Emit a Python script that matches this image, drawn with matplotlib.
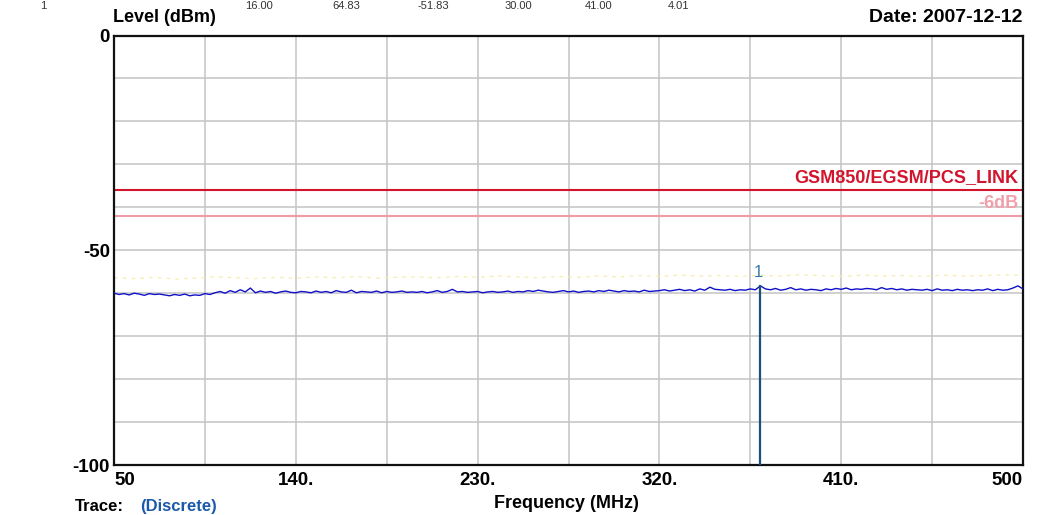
import numpy as np
import matplotlib
matplotlib.use("Agg")
import matplotlib.pyplot as plt

plt.rcParams['font.family'] = ['Liberation Sans', 'DejaVu Sans']

# Measured trace, 2.5 MHz sweep step from 50 to 500 MHz (dBm)
level = [
    -60.0, -60.3, -60.1, -60.4, -60.0, -60.2, -60.5, -60.1, -60.3, -60.2,
    -60.4, -60.6, -60.3, -60.5, -60.2, -60.6, -60.4, -60.5, -60.1, -60.3,
    -59.9, -59.6, -60.0, -59.4, -59.8, -59.2, -59.7, -58.8, -59.9, -59.5,
    -59.8, -59.6, -60.0, -59.7, -59.5, -59.8, -59.9, -59.6, -59.7, -59.9,
    -59.5, -59.8, -59.6, -59.9, -59.4, -59.7, -59.8, -59.3, -59.9, -59.6,
    -59.7, -59.8, -59.5, -59.9, -59.6, -59.8, -59.7, -59.5, -59.8, -59.7,
    -59.8, -59.6, -59.9, -59.7, -59.4, -59.8, -59.6, -59.1, -59.7, -59.6,
    -59.8, -59.7, -59.6, -59.9, -59.7, -59.6, -59.8, -59.7, -59.5, -59.8,
    -59.6, -59.7, -59.4, -59.6, -59.3, -59.5, -59.7, -59.8, -59.6, -59.4,
    -59.7, -59.5, -59.8, -59.6, -59.5, -59.7, -59.4, -59.6, -59.3, -59.5,
    -59.7, -59.4, -59.6, -59.5, -59.7, -59.3, -59.6, -59.5, -59.4, -59.2,
    -59.5, -59.3, -59.1, -59.4, -59.2, -59.5, -59.0, -59.3, -58.6, -59.1,
    -59.2, -59.3, -59.1, -59.4, -59.2, -59.3, -59.0, -59.2, -58.3, -59.0,
    -59.2, -58.9, -59.3, -59.1, -58.7, -59.2, -59.0, -59.3, -59.1, -59.2,
    -59.4, -59.0, -59.2, -58.9, -59.1, -58.8, -59.2, -59.0, -59.1, -58.9,
    -59.0, -59.2, -58.7, -59.1, -58.9, -59.2, -59.0, -59.3, -59.1, -59.2,
    -59.3, -59.1, -59.4, -59.0, -59.3, -59.2, -59.4, -59.1, -59.3, -59.2,
    -59.4, -59.2, -59.3, -59.0, -59.4, -59.1, -59.3, -59.2, -58.8, -58.3,
    -59.0,
]
freq = np.linspace(50, 500, len(level))

# Faint reference trace, 10 MHz step (dBm)
ref_level = [
    -56.4, -56.6, -56.3, -56.7, -56.5, -56.2, -56.4, -56.6, -56.3, -56.5,
    -56.2, -56.4, -56.1, -56.5, -56.3, -56.2, -56.4, -56.1, -56.3, -56.0,
    -56.2, -56.4, -56.1, -56.3, -56.0, -56.2, -55.9, -56.1, -55.8, -56.0,
    -55.9, -56.1, -55.8, -56.0, -55.7, -55.9, -56.1, -55.8, -56.0, -55.9,
    -56.1, -55.8, -56.0, -55.9, -55.7, -55.9,
]
ref_freq = np.linspace(50, 500, len(ref_level))

limit_level = -36.0
margin_db = 6.0
limit_label = "GSM850/EGSM/PCS_LINK"
marker_index = 128          # 370 MHz
marker_label = "1"

x_ticks = [50, 140, 230, 320, 410, 500]
x_tick_labels = ["50", "140.", "230.", "320.", "410.", "500"]
y_ticks = [0, -50, -100]
y_tick_labels = ["0", "-50", "-100"]

# summary row printed above the chart
row_values = ["1", "16.00", "64.83", "-51.83", "30.00", "41.00", "4.01"]
row_pos = [40, 245, 332, 418, 505, 585, 668]

W, H = 1037, 515
fig = plt.figure(figsize=(W / 100, H / 100), dpi=100)
ax = fig.add_axes([114 / W, 1 - 465 / H, (1023 - 114) / W, (465 - 35.5) / H])

ax.set_xlim(50, 500)
ax.set_ylim(-100, 0)

# grid every 45 MHz / 10 dB
for gx in np.arange(50, 501, 45):
    ax.axvline(gx, color='#c4c4c4', lw=1.1, zorder=0)
for gy in np.arange(-100, 1, 10):
    ax.axhline(gy, color='#c4c4c4', lw=1.1, zorder=0)

# limit and margin lines
ax.axhline(limit_level, color='#d2142d', lw=1.5, zorder=2)
ax.axhline(limit_level - margin_db, color='#f09aa6', lw=1.5, zorder=2)
ax.text(497.5, limit_level + 0.9, limit_label, color='#d2142d', fontsize=13,
        fontweight='bold', ha='right', va='bottom', zorder=3)
ax.text(497.5, limit_level - margin_db + 0.9, "-6dB", color='#f0a0a8', fontsize=13,
        fontweight='bold', ha='right', va='bottom', zorder=3)

# traces
ax.plot(ref_freq, ref_level, color='#f4efb0', lw=0.9, ls=(0, (3, 4)), zorder=2)
ax.plot(freq, level, color='#1010c8', lw=1.0, zorder=3)

# marker
mf, ml = freq[marker_index], level[marker_index]
ax.plot([mf, mf], [ml, -100], color='#1c4e7e', lw=1.6, zorder=4)
ax.text(mf - 1.2, ml + 1.3, marker_label, color='#3a78b0', fontsize=12,
        ha='center', va='bottom', zorder=4)

for s in ax.spines.values():
    s.set_linewidth(1.6)
    s.set_color('#111111')

ax.set_xticks(x_ticks)
ax.set_xticklabels(x_tick_labels, fontsize=13.5, fontweight='bold')
ax.set_yticks(y_ticks)
ax.set_yticklabels(y_tick_labels, fontsize=13.5, fontweight='bold')
ax.tick_params(axis='x', length=0, pad=5)
ax.tick_params(axis='y', length=0, pad=3)
xl = ax.get_xticklabels()
xl[0].set_ha('left')
xl[-1].set_ha('right')

fig.text(113 / W, 1 - 18 / H, "Level (dBm)", fontsize=13, fontweight='bold',
         ha='left', va='center')
fig.text(1022 / W, 1 - 18 / H, "Date: 2007-12-12", fontsize=14, fontweight='bold',
         ha='right', va='center')
fig.text(566 / W, 1 - 503 / H, "Frequency (MHz)", fontsize=13, fontweight='bold',
         ha='center', va='center')

for txt, px in zip(row_values, row_pos):
    fig.text(px / W, 1 - 1 / H, txt, fontsize=8, color='#333333',
             ha='left', va='top')

fig.text(75 / W, 1 / H, "Trace:", fontsize=12, fontweight='bold',
         ha='left', va='bottom')
fig.text(140 / W, 1 / H, "(Discrete)", fontsize=12, fontweight='bold',
         color='#1a5aa8', ha='left', va='bottom')

fig.savefig("out.png", dpi=100)
